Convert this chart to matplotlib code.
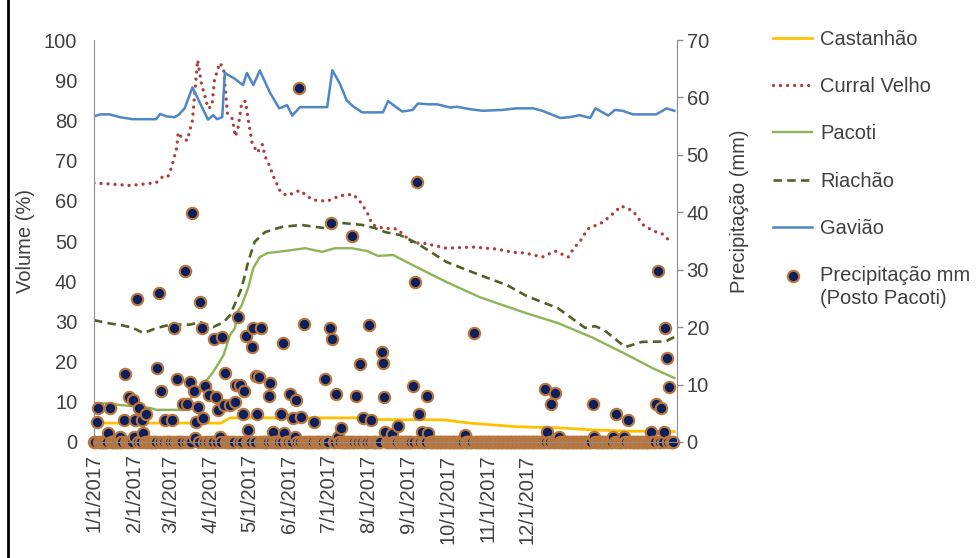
import numpy as np
import matplotlib
matplotlib.use("Agg")
import matplotlib.pyplot as plt
from matplotlib.transforms import ScaledTranslation
from matplotlib.legend_handler import HandlerLine2D

plt.rcParams['font.family'] = ['Liberation Sans', 'DejaVu Sans']

# dias contados a partir de 1/1/2017
month_days = [0, 31, 59, 90, 120, 151, 181, 212, 243, 273, 304, 334]
month_labels = ['1/1/2017', '2/1/2017', '3/1/2017', '4/1/2017', '5/1/2017', '6/1/2017',
                '7/1/2017', '8/1/2017', '9/1/2017', '10/1/2017', '11/1/2017', '12/1/2017']

# Castanhão (%)
cast_d = [0, 98, 105, 206, 214, 270, 290, 326, 360, 385, 411, 448]
cast_v = [4.7, 4.7, 6.0, 6.0, 5.6, 5.5, 4.7, 3.8, 3.5, 3.0, 2.7, 2.6]

# Curral Velho (%)
curr_d = [0, 12, 28, 48, 53, 57, 60, 64, 65, 68, 72, 76, 78, 80, 83, 86, 88, 91, 93, 97, 100,
          103, 107, 109, 111, 114, 117, 119, 122, 126, 130, 132, 136, 138, 144, 149, 159, 164,
          169, 180, 190, 200, 205, 211, 215, 223, 234, 246, 254, 272, 292, 311, 323, 333, 346,
          356, 366, 371, 375, 381, 393, 402, 407, 416, 424, 431, 439, 446]
curr_v = [64.4, 64.2, 63.8, 64.5, 66, 66, 68.4, 73.4, 77, 75.6, 75, 80, 87.6, 95, 89, 85.6, 83,
          83.5, 90, 94.3, 93, 81.8, 80.3, 76, 77.7, 84.3, 84.8, 80.3, 74.4, 72, 74, 71.1, 68.4,
          66.4, 62.2, 61.3, 62.6, 61.3, 60.2, 59.9, 61.3, 61.6, 60, 57, 54, 53.2, 53, 49.5,
          49.5, 48.2, 48.5, 48, 47.2, 47, 46, 47.5, 46, 48.5, 49.8, 53, 54.7, 57.2, 58.7, 57.5,
          54, 52.6, 51.7, 49.5]

# Pacoti (%)
pac_d = [0, 12, 20, 43, 48, 67, 72, 82, 92, 100, 105, 109, 110, 114, 119, 123, 128, 134, 147,
         163, 176, 186, 199, 211, 219, 231, 246, 272, 298, 334, 358, 384, 409, 431, 448]
pac_v = [9.7, 9.6, 9.2, 8.5, 8, 8, 10, 13.4, 17.4, 21.6, 26.6, 28.4, 32, 34, 38.3, 43.3, 46,
         47, 47.5, 48.2, 47.3, 48.2, 48.2, 47.5, 46.3, 46.5, 44, 39.8, 36, 32, 29.6, 26.1,
         22.1, 18.4, 15.9]

# Riachão (%)
ria_d = [0, 12, 22, 30, 38, 49, 59, 74, 82, 92, 100, 105, 114, 119, 124, 132, 145, 160, 178,
         191, 207, 217, 225, 236, 249, 272, 298, 319, 334, 358, 379, 387, 394, 410, 423, 441, 448]
ria_v = [30.3, 29.5, 29, 28.4, 27.1, 28.4, 29.2, 29.2, 29.8, 28.6, 29.8, 31.5, 38.3, 44.8,
         49.8, 52.2, 53.5, 54, 53.2, 54.5, 54, 53.2, 52.2, 51.5, 49.5, 44.8, 41.5, 39, 36.3,
         33.3, 28.4, 28.8, 27.8, 23.6, 24.9, 25, 26.1]

# Gavião (%)
gav_d = [0, 5, 12, 20, 30, 48, 51, 56, 62, 65, 70, 76, 88, 92, 95, 99, 101, 108, 115, 118, 123,
         128, 136, 143, 149, 153, 159, 180, 184, 190, 195, 200, 207, 223, 227, 238, 246, 250,
         259, 265, 275, 280, 290, 300, 315, 326, 339, 346, 360, 367, 375, 383, 387, 397, 402,
         408, 416, 434, 442, 448]
gav_v = [81, 81.5, 81.5, 80.8, 80.3, 80.3, 81.6, 81, 80.8, 81.3, 83, 88.2, 80.2, 81.3, 80.3,
         80.8, 91.8, 90.5, 88.8, 91.8, 88.8, 92.4, 86.8, 83, 83.8, 81.2, 83.3, 83.3, 92.5, 89,
         85, 83.5, 82, 82, 84.8, 82.2, 82.6, 84.2, 84, 84, 83.2, 83.4, 82.8, 82.4, 82.6, 83, 83,
         82.4, 80.6, 80.8, 81.3, 80.6, 83, 81.2, 82.6, 82.4, 81.5, 81.5, 83, 82.4]

# Precipitação mm (Posto Pacoti): dias com chuva; os outros dias = 0
rain_d = [2, 3, 11, 12, 20, 23, 24, 27, 30, 31, 32, 33, 35, 37, 38, 40, 49, 50, 52, 55, 60, 62,
          64, 69, 70, 72, 74, 76, 77, 78, 79, 80, 82, 83, 84, 86, 89, 93, 94, 96, 97, 99, 100,
          101, 105, 109, 110, 111, 113, 115, 116, 117, 119, 122, 123, 125, 126, 127, 129, 135,
          136, 138, 144, 146, 147, 151, 154, 155, 156, 158, 160, 162, 170, 178, 182, 183, 184,
          187, 188, 191, 199, 202, 205, 208, 212, 214, 222, 223, 224, 225, 230, 235, 246, 248,
          249, 251, 253, 257, 258, 286, 293, 348, 350, 353, 356, 359, 385, 386, 401, 403, 409,
          412, 430, 434, 435, 438, 440, 441, 442, 444]
rain_mm = [3.5, 5.9, 1.5, 5.9, 0.9, 3.8, 11.8, 7.9, 7.3, 0.9, 3.8, 24.9, 5.9, 3.8, 1.5, 4.9,
           12.9, 26, 8.8, 3.8, 3.8, 19.8, 11, 6.7, 29.8, 6.7, 10.5, 39.9, 8.8, 0.7, 3.5, 6.1,
           24.4, 19.8, 4.1, 9.7, 8.1, 17.9, 7.9, 5.6, 0.9, 18.2, 6.4, 12, 6.4, 7, 9.9, 21.8, 9.9,
           4.9, 8.8, 18.5, 2.1, 16.6, 19.9, 11.5, 4.9, 11.4, 19.8, 8, 10.3, 1.8, 4.9, 17.2, 1.5,
           8.3, 4.1, 0.9, 7.3, 61.7, 4.4, 20.6, 3.5, 10.9, 19.8, 38.1, 17.9, 8.3, 0.9, 2.4, 35.9,
           8, 13.5, 4.1, 20.4, 3.8, 15.7, 13.8, 7.9, 1.7, 1.4, 2.7, 9.7, 27.9, 45.2, 4.9, 1.8, 8,
           1.5, 1.2, 18.9, 9.2, 1.7, 6.7, 8.5, 0.8, 6.7, 0.9, 0.8, 4.9, 0.8, 3.8, 1.7, 6.7, 29.8,
           5.9, 1.7, 19.8, 14.7, 9.6]
n_days = 448

precip = np.zeros(n_days)
precip[rain_d] = rain_mm
days = np.arange(n_days)


class FirstLineHandler(HandlerLine2D):
    # põe o marcador da legenda na altura da primeira linha do texto
    def create_artists(self, legend, orig_handle, xdescent, ydescent, width, height,
                       fontsize, trans):
        arts = super().create_artists(legend, orig_handle, xdescent, ydescent, width,
                                      height, fontsize, trans)
        for a in arts:
            a.set_ydata([y + 0.6 * fontsize for y in a.get_ydata()])
        return arts


fig = plt.figure(figsize=(9.79, 5.58), dpi=100)
ax = fig.add_axes([0.096, 0.2079, 0.5955, 0.7204])
ax2 = ax.twinx()

ax.plot(cast_d, cast_v, color='#FFC000', lw=2.0, label='Castanhão')
ax.plot(curr_d, curr_v, color='#A8413D', lw=2.4, linestyle=(0, (0.01, 2.1)),
        dash_capstyle='round', label='Curral Velho')
ax.plot(pac_d, pac_v, color='#8DB456', lw=1.7, label='Pacoti')
ax.plot(ria_d, ria_v, color='#4F6228', lw=1.9, linestyle=(0, (3.2, 2.0)), label='Riachão')
ax.plot(gav_d, gav_v, color='#4F86C6', lw=1.8, label='Gavião')

rain_line, = ax2.plot(days, precip, linestyle='none', marker='o', ms=8.2, mfc='#0C1F5A',
                      mec='#B9773F', mew=1.5, clip_on=False,
                      label='Precipitação mm\n(Posto Pacoti)')

ax.set_xlim(0, 450)
ax.set_ylim(0, 100)
ax2.set_ylim(0, 70)
ax.set_yticks(range(0, 101, 10))
ax2.set_yticks(range(0, 71, 10))
ax.set_xticks(month_days)
ax.set_xticklabels(month_labels, rotation=90, va='top', ha='center')
shift = ScaledTranslation(-5 / 100, 0, fig.dpi_scale_trans)
for t in ax.get_xticklabels():
    t.set_transform(t.get_transform() + shift)

tc = '#404040'
ax.tick_params(axis='y', length=0, pad=12, labelsize=14.5, labelcolor=tc)
ax.tick_params(axis='x', length=0, pad=9, labelsize=14.5, labelcolor=tc)
ax2.tick_params(axis='y', length=4, width=1, color='#8C8C8C', pad=3, labelsize=14.5,
                labelcolor=tc)

for a in (ax, ax2):
    a.spines['top'].set_visible(False)
    a.spines['left'].set_color('#8C8C8C')
    a.spines['right'].set_color('#8C8C8C')
    a.spines['bottom'].set_color('#8C8C8C')
ax.spines['right'].set_visible(False)
ax2.spines['left'].set_visible(False)

ax.set_ylabel('Volume (%)', fontsize=14.5, color=tc, rotation=90, va='center', ha='center')
ax.yaxis.set_label_coords(-0.118, 0.5)
ax2.set_ylabel('Precipitação (mm)', fontsize=14.5, color=tc, rotation=90, va='center',
               ha='center')
ax2.yaxis.set_label_coords(1.108, 0.575)

h1, l1 = ax.get_legend_handles_labels()
h2, l2 = ax2.get_legend_handles_labels()
leg = fig.legend(h1 + h2, l1 + l2, loc='upper left', bbox_to_anchor=(773 / 979, 1 - 30 / 558),
                 frameon=False, fontsize=14.5, handlelength=1.95, handletextpad=0.4,
                 labelspacing=1.4, borderaxespad=0, borderpad=0,
                 handler_map={rain_line: FirstLineHandler()})
for t in leg.get_texts():
    t.set_color(tc)
leg.get_texts()[-1].set_linespacing(1.3)

# moldura da figura (lado esquerdo)
fig.add_artist(plt.Line2D([0.008, 0.008], [0, 1], transform=fig.transFigure,
                          color='black', lw=2))

fig.savefig('out.png', dpi=100)
